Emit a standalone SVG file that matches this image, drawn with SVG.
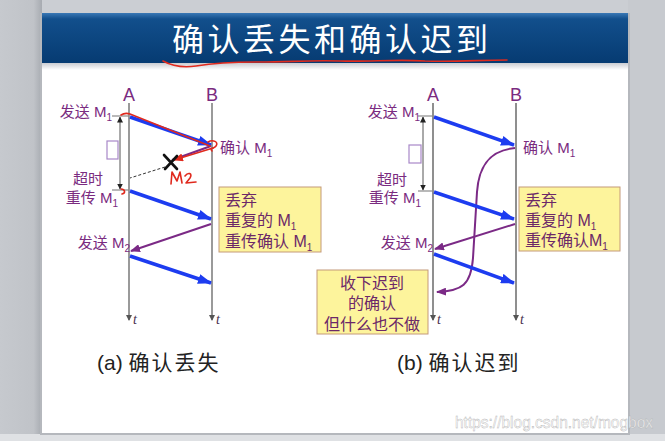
<svg xmlns="http://www.w3.org/2000/svg" width="665" height="441" viewBox="0 0 665 441">
<defs>
  <linearGradient id="hdr" x1="0" y1="0" x2="0" y2="1">
    <stop offset="0" stop-color="#3a78b5"/>
    <stop offset="0.12" stop-color="#124f8c"/>
    <stop offset="1" stop-color="#063b72"/>
  </linearGradient>
  <linearGradient id="shadow" x1="0" y1="0" x2="0" y2="1">
    <stop offset="0" stop-color="#c9ccd2"/>
    <stop offset="1" stop-color="#ffffff"/>
  </linearGradient>
  <linearGradient id="leftbg" x1="0" y1="0" x2="1" y2="0">
    <stop offset="0" stop-color="#c6c9ce"/>
    <stop offset="0.8" stop-color="#c0c3c8"/>
    <stop offset="1" stop-color="#a7abb1"/>
  </linearGradient>
  <marker id="ahBlue" viewBox="0 0 14 10" refX="13" refY="5" markerWidth="14" markerHeight="10" markerUnits="userSpaceOnUse" orient="auto">
    <path d="M0,0 L14,5 L0,10 Z" fill="#1d3cf0"/>
  </marker>
  <marker id="ahPurple" viewBox="0 0 10 8" refX="9" refY="4" markerWidth="10" markerHeight="8" markerUnits="userSpaceOnUse" orient="auto">
    <path d="M0,0 L10,4 L0,8 Z" fill="#7b2a86"/>
  </marker>
  <marker id="ahRed" viewBox="0 0 10 8" refX="9" refY="4" markerWidth="10" markerHeight="8" markerUnits="userSpaceOnUse" orient="auto">
    <path d="M0,0 L10,4 L0,8 Z" fill="#e02a1e"/>
  </marker>
  <marker id="ahTime" viewBox="0 0 6 6" refX="5" refY="3" markerWidth="6" markerHeight="6" markerUnits="userSpaceOnUse" orient="auto">
    <path d="M0,0 L6,3 L0,6 Z" fill="#555"/>
  </marker>
  <marker id="ahDim" viewBox="0 0 6 6" refX="5.5" refY="3" markerWidth="6" markerHeight="6" markerUnits="userSpaceOnUse" orient="auto-start-reverse">
    <path d="M0,0 L6,3 L0,6 Z" fill="#222"/>
  </marker>
</defs>
<style>
  .cjk { font-family: "Liberation Sans", "Noto Sans CJK SC", sans-serif; }
  .lbl { font-size: 15px; fill: #7a2b80; }
  .box { fill: #fdf49c; stroke: #c49a7a; stroke-width: 1; }
  .boxt { font-size: 16px; fill: #6c2868; }
  .hdr { font-size: 18px; fill: #7a2b80; }
  .tl { stroke: #9a9a9a; stroke-width: 2; fill: none; marker-end: url(#ahTime); }
  .tl2 { stroke: #6a6a6a; stroke-width: 1.5; fill: none; marker-end: url(#ahTime); }
  .tlab { font-family: "Liberation Serif", "DejaVu Serif", serif; font-style: italic; font-size: 14px; fill: #4a3050; }
  .blue { stroke: #1d3cf0; stroke-width: 3.5; fill: none; marker-end: url(#ahBlue); }
  .purp { stroke: #7b2a86; stroke-width: 2; fill: none; marker-end: url(#ahPurple); }
  .tick { stroke: #8a8a8a; stroke-width: 1.2; }
  .dim { stroke: #555; stroke-width: 1; marker-start: url(#ahDim); marker-end: url(#ahDim); }
  .rect { fill: #ffffff; stroke: #a888c8; stroke-width: 1.2; }
  .red { stroke: #e02a1e; stroke-width: 1.6; fill: none; stroke-linecap: round; stroke-linejoin: round; }
  .cap { font-size: 21px; fill: #222; }
  .capc { letter-spacing: 2px; }
  .sub { font-size: 10px; }
</style>

<!-- background -->
<rect x="0" y="0" width="665" height="441" fill="#cbced3"/>
<rect x="0" y="0" width="42" height="441" fill="url(#leftbg)"/>
<rect x="628" y="0" width="37" height="441" fill="#c7cacf"/>
<rect x="0" y="434" width="665" height="7" fill="#dfe1e4"/>
<rect x="40" y="13" width="590" height="422" fill="#b5b8bd"/>
<rect x="42" y="13" width="586" height="420" fill="#ffffff"/>
<rect x="42" y="63" width="586" height="7" fill="url(#shadow)"/>
<rect x="42" y="13" width="586" height="50" fill="url(#hdr)"/>

<g id="title">
  <text x="172" y="51" class="cjk" font-size="32" letter-spacing="3.5" fill="#ffffff">确认丢失和确认迟到</text>
  <path class="red" d="M163,61 C172,66 182,68 196,66 C215,63 235,62 260,62 C290,62 310,60 340,61 C370,62 395,59 425,61 C455,62 480,60 507,60"/>
</g>

<!-- ===== (a) ===== -->
<g id="a-lifelines">
  <text x="129" y="101" class="cjk hdr" text-anchor="middle">A</text>
  <text x="212" y="101" class="cjk hdr" text-anchor="middle">B</text>
  <line class="tl" x1="129" y1="103" x2="129" y2="320"/>
  <line class="tl" x1="212" y1="103" x2="212" y2="320"/>
  <text x="133" y="324" class="tlab">t</text>
  <text x="216" y="324" class="tlab">t</text>
</g>
<g id="a-timer">
  <line class="tick" x1="112" y1="116" x2="129" y2="116"/>
  <line class="tick" x1="112" y1="190" x2="129" y2="190"/>
  <line class="dim" x1="120" y1="117" x2="120" y2="189"/>
  <rect class="rect" x="107" y="141" width="11" height="18"/>
</g>
<g id="a-labels" class="cjk">
  <text x="112" y="117" class="lbl" text-anchor="end">发送 M<tspan class="sub" dy="4">1</tspan></text>
  <text x="88" y="184" class="lbl" text-anchor="middle">超时</text>
  <text x="118" y="203" class="lbl" text-anchor="end">重传 M<tspan class="sub" dy="4">1</tspan></text>
  <text x="220" y="153" class="lbl">确认 M<tspan class="sub" dy="4">1</tspan></text>
  <text x="130" y="248" class="lbl" text-anchor="end">发送 M<tspan class="sub" dy="4">2</tspan></text>
</g>
<g id="a-box" class="cjk">
  <rect class="box" x="219" y="187" width="102" height="65"/>
  <text x="225" y="206" class="boxt">丢弃</text>
  <text x="225" y="226" class="boxt">重复的 M<tspan class="sub" dy="4">1</tspan></text>
  <text x="225" y="247" class="boxt">重传确认 M<tspan class="sub" dy="4">1</tspan></text>
</g>

<!-- ===== (b) ===== -->
<g id="b-lifelines">
  <text x="433" y="101" class="cjk hdr" text-anchor="middle">A</text>
  <text x="516" y="101" class="cjk hdr" text-anchor="middle">B</text>
  <line class="tl2" x1="433" y1="103" x2="433" y2="320"/>
  <line class="tl2" x1="516" y1="103" x2="516" y2="320"/>
  <text x="437" y="324" class="tlab">t</text>
  <text x="520" y="324" class="tlab">t</text>
</g>
<g id="b-timer">
  <line class="tick" x1="418" y1="116" x2="433" y2="116"/>
  <line class="tick" x1="418" y1="191" x2="433" y2="191"/>
  <line class="dim" x1="423" y1="117" x2="423" y2="190"/>
  <rect class="rect" x="409" y="145" width="12" height="18"/>
</g>
<g id="b-labels" class="cjk">
  <text x="420" y="117" class="lbl" text-anchor="end">发送 M<tspan class="sub" dy="4">1</tspan></text>
  <text x="392" y="185" class="lbl" text-anchor="middle">超时</text>
  <text x="421" y="203" class="lbl" text-anchor="end">重传 M<tspan class="sub" dy="4">1</tspan></text>
  <text x="523" y="153" class="lbl">确认 M<tspan class="sub" dy="4">1</tspan></text>
  <text x="433" y="248" class="lbl" text-anchor="end">发送 M<tspan class="sub" dy="4">2</tspan></text>
</g>
<g id="b-box1" class="cjk">
  <rect class="box" x="519" y="187" width="101" height="64"/>
  <text x="525" y="206" class="boxt">丢弃</text>
  <text x="525" y="226" class="boxt">重复的 M<tspan class="sub" dy="4">1</tspan></text>
  <text x="525" y="246" class="boxt">重传确认M<tspan class="sub" dy="4">1</tspan></text>
</g>
<g id="b-box2" class="cjk">
  <rect class="box" x="317" y="270" width="111" height="64"/>
  <text x="372" y="289" class="boxt" text-anchor="middle">收下迟到</text>
  <text x="372" y="309" class="boxt" text-anchor="middle">的确认</text>
  <text x="372" y="330" class="boxt" text-anchor="middle">但什么也不做</text>
</g>

<!-- connectors -->
<g id="connectors">
  <!-- (a) -->
  <line class="blue" x1="130" y1="117" x2="211" y2="145"/>
  <line stroke="#7b2a86" stroke-width="2" x1="211" y1="146" x2="172" y2="160"/>
  <line stroke="#333" stroke-width="1" stroke-dasharray="3,2" x1="165" y1="167" x2="130" y2="178"/>
  <line class="blue" x1="130" y1="191" x2="211" y2="219"/>
  <line class="purp" x1="211" y1="224" x2="131" y2="251"/>
  <line class="blue" x1="130" y1="256" x2="211" y2="283"/>
  <!-- (b) -->
  <line class="blue" x1="434" y1="117" x2="514" y2="145"/>
  <path class="purp" d="M515,148 C492,150 479,163 477,192 L473,258 C471,285 462,291 437,292"/>
  <line class="blue" x1="434" y1="192" x2="514" y2="219"/>
  <line class="purp" x1="515" y1="224" x2="435" y2="249"/>
  <line class="blue" x1="434" y1="254" x2="514" y2="283"/>
</g>

<!-- hand-drawn annotations in (a) -->
<g id="annotations">
  <path class="red" d="M121,115 C124,113 127,113 130,114 L210,146"/>
  <path class="red" d="M208,142 C213,139 219,142 216,146 C214,149 209,148 212,151"/>
  <path class="red" d="M213,148 L174,160" marker-end="url(#ahRed)"/>
  <path stroke="#111" stroke-width="2.6" stroke-linecap="round" d="M164,155 L177,169 M177,156 L165,169"/>
  <path class="red" d="M171,184 L172,172 L177,181 L180,172 L182,183 M185,176 C188,172 193,173 190,178 L186,183 L196,182"/>
  <path class="red" d="M121,189 C125,189 126,193 122,194"/>
</g>

<g id="captions" class="cjk">
  <text x="97" y="370" class="cap">(a) <tspan class="capc">确认丢失</tspan></text>
  <text x="397" y="370" class="cap">(b) <tspan class="capc">确认迟到</tspan></text>
</g>
<text x="455" y="428" font-family="Liberation Sans, sans-serif" font-size="16" textLength="198" lengthAdjust="spacingAndGlyphs" fill="#ffffff" fill-opacity="0.75" stroke="#b0b0b0" stroke-width="0.4">https://blog.csdn.net/mogbox</text>
</svg>
